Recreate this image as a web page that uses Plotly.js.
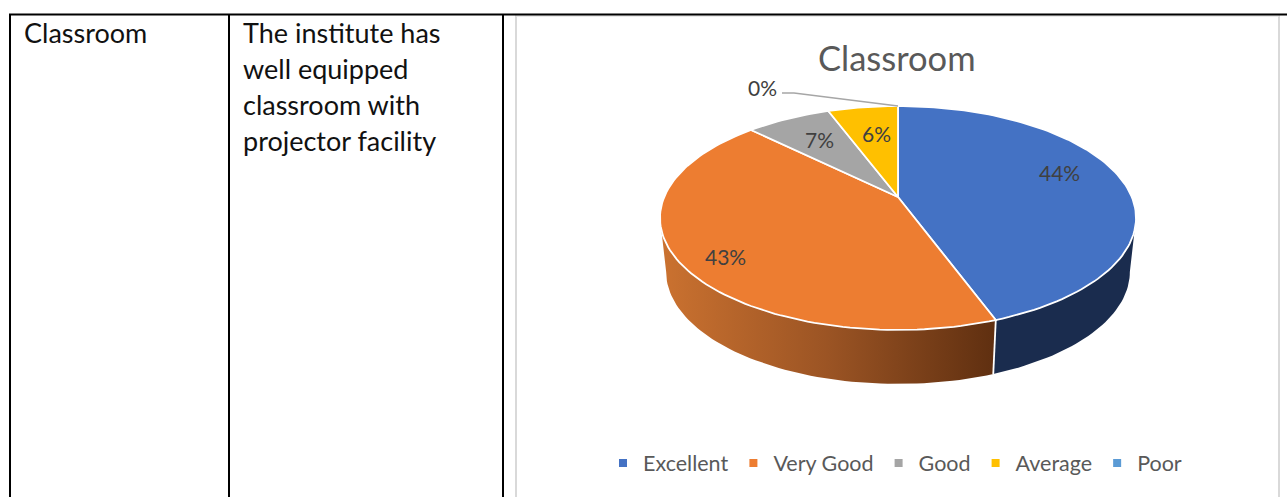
<!DOCTYPE html>
<html><head><meta charset="utf-8">
<script src="https://cdn.plot.ly/plotly-3.0.1.min.js"></script>
<style>html,body{margin:0;padding:0;background:#fff}#c{width:1287px;height:497px}</style>
</head><body><div id="c"></div>
<script>
const categories = ["Excellent", "Very Good", "Good", "Average", "Poor"];
const shares = [44.4, 43.0, 6.9, 5.7, 0];
const sliceColors = ["#4472C4", "#ED7D31", "#A5A5A5", "#FFC000", "#5B9BD5"];
const chartTitle = "Classroom";
const rowHeader = "Classroom";
const statementLines = ["The institute has", "well equipped", "classroom with", "projector facility"];

const FONT = "Lato, 'Noto Sans', sans-serif";
const W = 1287, H = 497;
// perspective projection of a flat disc on the axes, which are in page pixels
const cx = 898, cy = 197, a = 233.8, b = 108, k = 0.1875;
const depth = 54, lowerScale = 0.974;
function rim(deg) {
  const t = deg * Math.PI / 180, u = Math.sin(t), v = Math.cos(t), d = 1 + k * v;
  return [a * u / d, b * v / d];
}
function arc(d0, d1) {
  const xs = [], ys = [], n = Math.max(2, Math.ceil(Math.abs(d1 - d0) / 1.5));
  for (let i = 0; i <= n; i++) {
    const [X, Y] = rim(d0 + (d1 - d0) * i / n);
    xs.push(cx + X); ys.push(cy - Y);
  }
  return [xs, ys];
}
function lowerArc(d0, d1) {
  const [xs, ys] = arc(d0, d1);
  return [xs.map(x => cx + (x - cx) * lowerScale), ys.map(y => y + depth)];
}
const total = shares.reduce((s, v) => s + v, 0);
let acc = 0;
const spans = shares.map(v => { const s = [acc, acc + v / total * 360]; acc = s[1]; return s; });
// the wall's silhouette meets the rim where the projected disc is widest
const tangent = Math.acos(-k) * 180 / Math.PI;

const traces = [];
// side wall: only the two front slices show
function wall(d0, d1, opts) {
  const [tx, ty] = arc(d0, d1), [lx, ly] = lowerArc(d1, d0);
  traces.push(Object.assign({
    type: "scatter", mode: "lines", x: tx.concat(lx, [tx[0]]), y: ty.concat(ly, [ty[0]]),
    fill: "toself", line: {width: 0, color: "rgba(0,0,0,0)"}, showlegend: false, hoverinfo: "skip"
  }, opts));
}
wall(tangent, spans[0][1], {fillcolor: "#1A2C4E"});
wall(spans[0][1], 360 - tangent, {
  fillcolor: "#A0561F",
  fillgradient: {type: "horizontal", colorscale: [[0, "#CB7230"], [0.5, "#9B5424"], [1, "#5F2F10"]]}
});
// white seam between the two walls
{
  const [sx, sy] = arc(spans[0][1], spans[0][1]), [lx, ly] = lowerArc(spans[0][1], spans[0][1]);
  traces.push({type: "scatter", mode: "lines", x: [sx[0], lx[0]], y: [sy[0], ly[0]],
    line: {color: "#FFFFFF", width: 1.8}, showlegend: false, hoverinfo: "skip"});
}
// top face
shares.forEach((v, i) => {
  if (v <= 0) return;
  const [xs, ys] = arc(spans[i][0], spans[i][1]);
  traces.push({type: "scatter", mode: "lines", x: [cx].concat(xs, [cx]), y: [cy].concat(ys, [cy]),
    fill: "toself", fillcolor: sliceColors[i], line: {color: "#FFFFFF", width: 1.8},
    showlegend: false, hoverinfo: "skip"});
});
// legend entries
categories.forEach((c, i) => {
  traces.push({type: "scatter", mode: "markers", name: c, x: [null], y: [null],
    marker: {symbol: "square", size: 8, color: sliceColors[i]}, hoverinfo: "skip"});
});

const lbl = (text, x, y) => ({x, y, text: text, xref: "x", yref: "y", showarrow: false,
  font: {family: FONT, size: 21, color: "#404040"}, xanchor: "center", yanchor: "middle"});
const pct = shares.map(v => Math.round(v / total * 100) + "%");
const body = (text, x, y) => ({x, y, text, xref: "x", yref: "y", showarrow: false,
  font: {family: FONT, size: 27, color: "#111111"}, xanchor: "left", yanchor: "middle"});

const annotations = [
  {x: 897, y: 57, text: chartTitle, xref: "x", yref: "y", showarrow: false,
   font: {family: FONT, size: 34.5, color: "#595959"}, xanchor: "center", yanchor: "middle"},
  lbl(pct[0], 1059, 172), lbl(pct[1], 725, 256), lbl(pct[2], 819, 139), lbl(pct[3], 876, 133), lbl(pct[4], 762, 87),
  body(rowHeader, 22, 32)
].concat(statementLines.map((t, i) => body(t, 241, 32 + 36 * i)));

const vline = (x, color, w, y0) => ({type: "line", xref: "x", yref: "y", x0: x, x1: x, y0, y1: H, line: {color, width: w}});
const shapes = [
  vline(516, "#D9D9D9", 2, 15), vline(1279, "#D9D9D9", 2, 15),
  {type: "line", xref: "x", yref: "y", x0: 516, x1: 1279, y0: 16, y1: 16, line: {color: "#E3E3E3", width: 1.5}},
  {type: "line", xref: "x", yref: "y", x0: 9, x1: W, y0: 14.5, y1: 14.5, line: {color: "#000000", width: 2}},
  vline(10, "#000000", 2, 14), vline(229, "#000000", 2, 14), vline(503, "#000000", 2, 14),
  {type: "path", xref: "x", yref: "y", path: "M 782 93 L 794 93 L 898 106", line: {color: "#A6A6A6", width: 1.5}}
];

Plotly.newPlot("c", traces, {
  width: W, height: H, margin: {l: 0, r: 0, t: 0, b: 0},
  paper_bgcolor: "#FFFFFF", plot_bgcolor: "#FFFFFF",
  xaxis: {range: [0, W], visible: false, fixedrange: true},
  yaxis: {range: [H, 0], visible: false, fixedrange: true},
  shapes, annotations,
  legend: {orientation: "h", x: 603 / W, xanchor: "left", y: 1 - 463 / H, yanchor: "middle",
    font: {family: FONT, size: 21.5, color: "#595959"}, bgcolor: "rgba(0,0,0,0)"},
  showlegend: true
}, {displayModeBar: false, staticPlot: true});
</script></body></html>
